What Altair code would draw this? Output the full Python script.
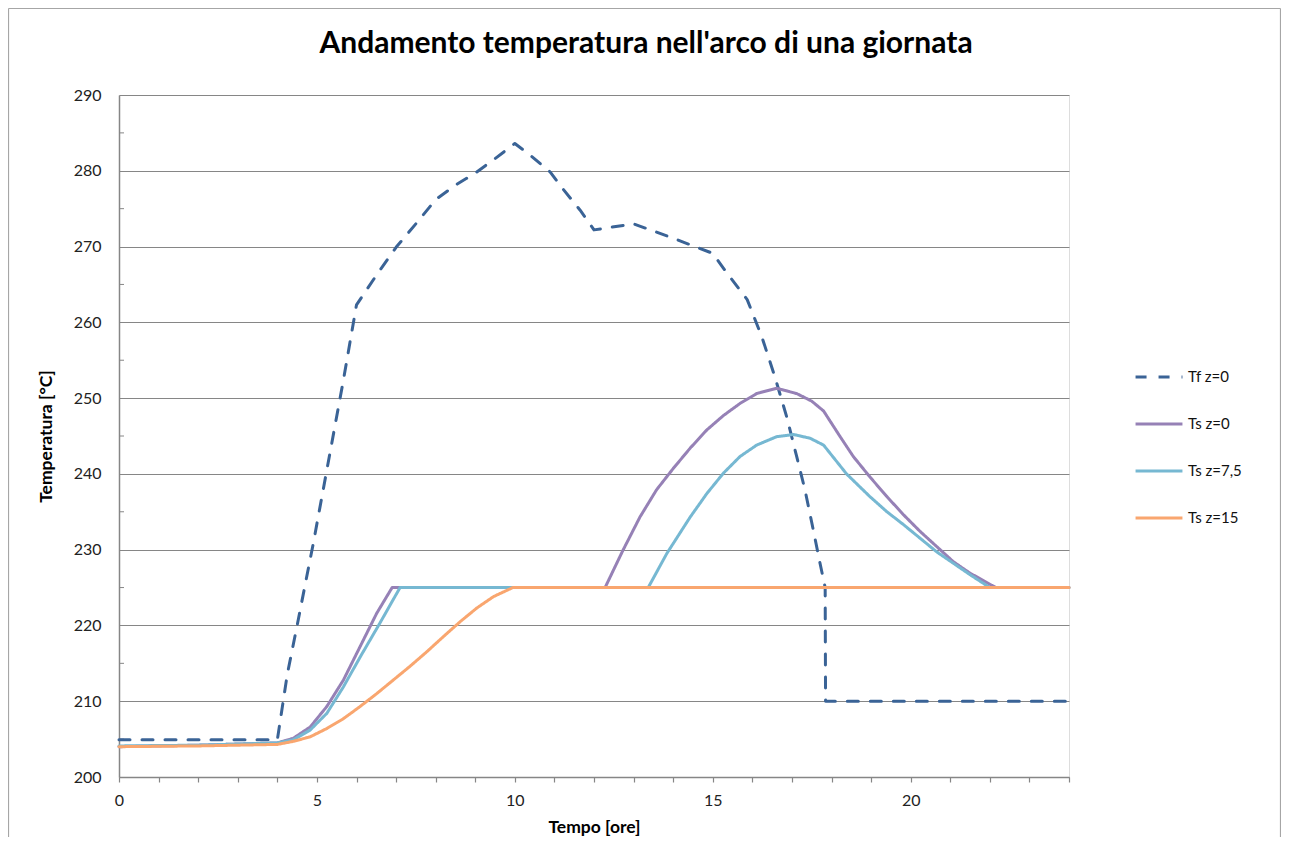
import altair as alt
import pandas as pd

# ---------------- data ----------------
series_names = ["Tf z=0", "Ts z=0", "Ts z=7,5", "Ts z=15"]
series_colors = ["#3A6396", "#9681B6", "#76B8D2", "#F9A66F"]
series_dash = [[11, 12], [1, 0], [1, 0], [1, 0]]

tf_t = [0, 4.0, 4.25, 4.5, 4.9, 5.25, 5.67, 6.0, 6.5, 7.0, 7.5, 8.0, 8.5, 9.0, 9.5, 10.0,
        10.4, 10.9, 11.2, 11.65, 12.0, 13.0, 14.0, 15.0, 15.36, 15.87, 16.24, 16.57, 16.87,
        17.12, 17.33, 17.54, 17.71, 17.84, 17.85, 24.0]
tf_v = [204.9, 204.9, 213.5, 220.0, 230.6, 240.5, 252.4, 262.3, 266.2, 269.9, 273.0, 276.2,
        278.1, 279.7, 281.6, 283.6, 282.0, 279.8, 277.7, 274.8, 272.2, 273.0, 271.1, 269.1,
        266.5, 263.0, 258.1, 252.8, 247.5, 242.3, 237.9, 232.6, 228.2, 225.0, 210.0, 210.0]

ts0_t = [0, 2.0, 4.0, 4.4, 4.83, 5.25, 5.67, 6.09, 6.51, 6.9, 12.28, 12.73, 13.16, 13.58,
         14.0, 14.43, 14.85, 15.27, 15.69, 16.11, 16.61, 17.12, 17.5, 17.8, 18.22, 18.55,
         18.97, 19.4, 19.82, 20.24, 20.66, 21.08, 21.5, 22.15, 24.0]
ts0_v = [204.0, 204.2, 204.5, 205.1, 206.6, 209.3, 212.8, 217.2, 221.6, 225.0, 225.0, 229.9,
         234.3, 237.9, 240.7, 243.4, 245.8, 247.7, 249.3, 250.6, 251.3, 250.6, 249.6, 248.3,
         244.9, 242.3, 239.6, 237.0, 234.6, 232.4, 230.4, 228.4, 226.9, 225.0, 225.0]

ts75_t = [0, 2.0, 4.0, 4.4, 4.83, 5.25, 5.67, 6.1, 6.59, 7.1, 13.37, 13.84, 14.43, 14.85,
          15.27, 15.69, 16.11, 16.61, 17.04, 17.46, 17.8, 18.38, 18.97, 19.4, 19.82, 20.24,
          20.66, 21.08, 21.5, 22.0, 24.0]
ts75_v = [204.1, 204.2, 204.5, 204.9, 206.2, 208.4, 211.9, 215.9, 220.3, 225.0, 225.0, 229.5,
          234.3, 237.4, 240.1, 242.3, 243.8, 244.9, 245.2, 244.7, 243.8, 240.0, 237.0, 235.0,
          233.3, 231.5, 229.7, 228.2, 226.7, 225.0, 225.0]

ts15_t = [0, 2.0, 4.0, 4.4, 4.83, 5.25, 5.67, 6.09, 6.51, 6.93, 7.35, 7.77, 8.19, 8.62, 9.04,
          9.46, 9.95, 24.0]
ts15_v = [204.0, 204.1, 204.3, 204.7, 205.3, 206.4, 207.7, 209.3, 211.0, 212.8, 214.6, 216.5,
          218.5, 220.5, 222.3, 223.8, 225.0, 225.0]

x_ticks = list(range(0, 25))
y_major = [200, 210, 220, 230, 240, 250, 260, 270, 280, 290]
y_minor = [205, 215, 225, 235, 245, 255, 265, 275, 285]

# ---------------- table built from the lists ----------------
rows = []
for name, ts, vs in zip(series_names,
                        [tf_t, ts0_t, ts75_t, ts15_t],
                        [tf_v, ts0_v, ts75_v, ts15_v]):
    for t, v in zip(ts, vs):
        rows.append({"serie": name, "t": t, "v": v})
df = pd.DataFrame(rows)

FONT = "Lato"
GRAY = "#868686"

legend_kw = dict(
    orient="none", legendX=1015, legendY=257, title=None,
    symbolType="stroke", symbolSize=2200, symbolStrokeWidth=3,
    labelFont=FONT, labelFontSize=15, labelColor="#111", labelOffset=4,
    rowPadding=14, padding=0,
)

xs = alt.Scale(domain=[0, 24], nice=False, zero=False)
ys = alt.Scale(domain=[200, 290], nice=False, zero=False)

y_axis = alt.Axis(
    values=y_major, grid=True, gridColor=GRAY, gridWidth=1,
    ticks=False, tickSize=0,
    domainColor=GRAY, domainWidth=1.5,
    labelFont=FONT, labelFontSize=16, labelColor="#222", labelPadding=18,
    labelFlush=False,
    titleFont=FONT, titleFontSize=17.5, titleFontWeight="bold", titleColor="#000",
    titlePadding=18)

x_axis = alt.Axis(
    values=x_ticks,
    labelExpr="datum.value % 5 === 0 ? datum.label : ''",
    grid=False, tickSize=5, tickColor=GRAY, tickWidth=1.2,
    domainColor=GRAY, domainWidth=1.5,
    labelFont=FONT, labelFontSize=16, labelColor="#222", labelPadding=10,
    labelFlush=False, labelOverlap=False,
    titleFont=FONT, titleFontSize=17.5, titleFontWeight="bold", titleColor="#000",
    titlePadding=10)

lines = alt.Chart(df).mark_line(strokeWidth=3, strokeCap="round", strokeJoin="round").encode(
    x=alt.X("t:Q", scale=xs, title="Tempo [ore]", axis=x_axis),
    y=alt.Y("v:Q", scale=ys, title="Temperatura [°C]", axis=y_axis),
    color=alt.Color("serie:N", scale=alt.Scale(domain=series_names, range=series_colors),
                    legend=alt.Legend(**legend_kw)),
    strokeDash=alt.StrokeDash("serie:N", scale=alt.Scale(domain=series_names, range=series_dash),
                              legend=alt.Legend(**legend_kw)),
)

minor = alt.Chart(pd.DataFrame({"v": y_minor})).mark_rule(color=GRAY, strokeWidth=1).encode(
    y=alt.Y("v:Q", scale=ys, title="Temperatura [°C]", axis=y_axis),
    x=alt.value(0), x2=alt.value(5),
)

one = pd.DataFrame({"k": [0]})
border_color = "#A6A6A6"
b_top = alt.Chart(one).mark_rule(color=border_color, strokeWidth=1.2).encode(
    x=alt.value(-110.5), x2=alt.value(1161.5), y=alt.value(-86.5))
b_left = alt.Chart(one).mark_rule(color=border_color, strokeWidth=1.2).encode(
    x=alt.value(-110.5), y=alt.value(-86.5), y2=alt.value(760))
b_right = alt.Chart(one).mark_rule(color=border_color, strokeWidth=1.2).encode(
    x=alt.value(1161.5), y=alt.value(-86.5), y2=alt.value(760))

chart = alt.layer(minor, lines, b_top, b_left, b_right).properties(
    width=950, height=682,
    autosize=alt.AutoSizeParams(type="none"),
    padding={"left": 111, "top": 87, "right": 212, "bottom": 60},
    title=alt.TitleParams(
        text="Andamento temperatura nell'arco di una giornata",
        font=FONT, fontSize=30, fontWeight="bold", color="#000",
        anchor="middle", dx=52, offset=-51),
).configure_view(strokeWidth=0).configure(background="white")

chart.save("out.html", embed_options={"renderer": "svg", "actions": False})
